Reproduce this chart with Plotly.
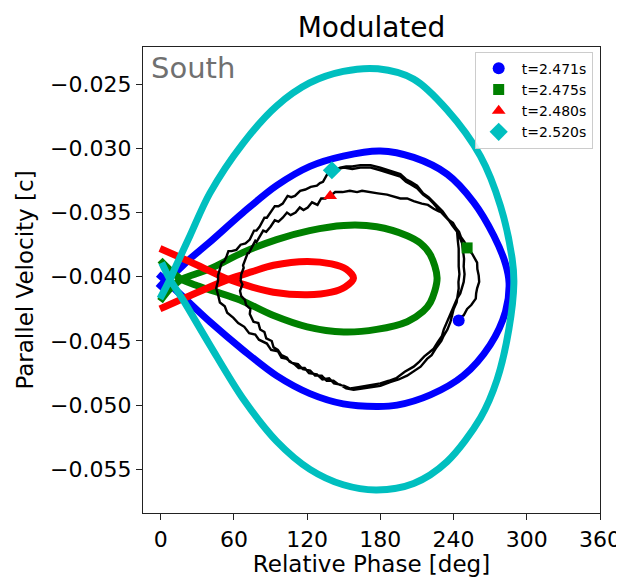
import plotly.graph_objects as go

# ---- data (Relative Phase [deg], Parallel Velocity [c]) ----
blue_curve = [(-2.0,-0.0398),(4.0,-0.0403),(12.0,-0.0410),(21.0,-0.0418),(40.2,-0.0435),(67.5,-0.0457),
              (94.9,-0.0477),(122.3,-0.0491),(149.6,-0.0499),(177.0,-0.0501),(193.7,-0.0500),(221.0,-0.0492),
              (248.0,-0.0477),(270.0,-0.0453),(282.6,-0.0427),(285.5,-0.0405),(282.6,-0.0390),(273.0,-0.0368),
              (256.5,-0.0342),(234.7,-0.0320),(207.3,-0.0307),(180.0,-0.0302),(149.6,-0.0306),(122.3,-0.0314),
              (94.9,-0.0329),(67.5,-0.0350),(40.2,-0.0373),(24.0,-0.0386),(12.8,-0.0396),(4.0,-0.0403),(-2.0,-0.0409)]

green_curve = [(-0.5,-0.0387),(8.0,-0.0395),(17.0,-0.0402),(30.0,-0.0407),(43.0,-0.0411),(65.0,-0.0418),
               (92.0,-0.0430),(120.0,-0.0439),(150.0,-0.0443),(177.0,-0.0441),(202.0,-0.0435),(215.0,-0.0427),
               (221.0,-0.0420),(226.5,-0.0401),(221.0,-0.0383),(213.0,-0.0374),(202.0,-0.0368),(177.0,-0.0361),
               (150.0,-0.0360),(122.0,-0.0364),(95.0,-0.0371),(67.5,-0.0381),(40.0,-0.0394),(28.0,-0.0398),
               (17.0,-0.0402),(8.0,-0.0409),(-0.5,-0.0419)]

red_curve = [(-0.6,-0.0378),(28.0,-0.0390),(55.5,-0.0402),(75.0,-0.0408),(92.4,-0.0412),(120.0,-0.0414),
             (140.0,-0.0412),(151.0,-0.0408),(158.0,-0.0401),(152.0,-0.0394),(140.0,-0.0390),(120.0,-0.0388),
             (92.4,-0.0391),(75.0,-0.0396),(55.5,-0.0402),(28.0,-0.0413),(-0.6,-0.0425)]

cyan_curve = [(0.8,-0.0389),(7.6,-0.0402),(18.3,-0.0418),(40.2,-0.0453),(67.5,-0.0495),(94.9,-0.0528),
              (122.3,-0.0550),(149.6,-0.0562),(177.0,-0.0566),(207.3,-0.0561),(234.7,-0.0544),(262.0,-0.0510),
              (275.7,-0.0480),(285.3,-0.0441),(289.4,-0.0405),(288.0,-0.0386),(278.5,-0.0345),(262.0,-0.0306),
              (234.7,-0.0270),(207.3,-0.0246),(178.0,-0.0238),(149.6,-0.0240),(122.0,-0.0249),(94.9,-0.0267),
              (67.5,-0.0296),(40.2,-0.0335),(24.0,-0.0368),(12.8,-0.0391),(7.6,-0.0402),(-0.6,-0.0417)]

trajectory = [
    # t=2.471 -> t=2.475
    (244.2,-0.0434),(246.5,-0.0431),(248.3,-0.0430),(251.1,-0.0425),(254.5,-0.0422),(258.2,-0.0417),
    (258.5,-0.0413),(259.3,-0.0409),(261.0,-0.0404),(260.6,-0.0399),(259.5,-0.0394),(259.3,-0.0389),
    (255.2,-0.0382),(251.1,-0.03775),
    # t=2.475 -> t=2.480
    (249.0,-0.0373),(246.0,-0.0369),(244.5,-0.0365),(242.0,-0.0362),(239.5,-0.0358),(236.5,-0.0356),
    (234.7,-0.0354),(231.0,-0.0350),(228.0,-0.0349),(223.7,-0.0347),(219.0,-0.0344),(214.0,-0.0343),
    (207.3,-0.0341),(202.0,-0.0339),(196.4,-0.0339),(190.0,-0.0337),(185.5,-0.0336),(178.0,-0.0335),
    (172.0,-0.0334),(165.0,-0.0333),(160.9,-0.0334),(155.0,-0.0333),(149.0,-0.0334),(143.0,-0.0334),
    (138.9,-0.0337),
    # first loop
    (135.0,-0.0339),(131.5,-0.0339),(128.5,-0.0344),(124.0,-0.0342),(120.5,-0.0346),(117.0,-0.0348),
    (114.0,-0.0346),(110.5,-0.0350),(106.5,-0.0352),(103.5,-0.0350),(100.0,-0.0354),(96.5,-0.0357),
    (93.5,-0.0356),(90.0,-0.0361),(86.5,-0.0365),(84.0,-0.0364),(81.0,-0.0369),(78.5,-0.0373),
    (77.5,-0.0372),(74.5,-0.0378),(72.0,-0.0382),(71.5,-0.0381),(69.0,-0.0387),(67.5,-0.0391),
    (68.0,-0.0393),(66.0,-0.0398),(65.5,-0.0403),(67.0,-0.0406),(65.0,-0.0411),(66.0,-0.0415),
    (69.0,-0.0418),(70.0,-0.0422),(73.5,-0.0425),(73.0,-0.0429),(76.0,-0.0435),(80.0,-0.0436),
    (81.5,-0.0441),(85.0,-0.0443),(86.5,-0.0448),(91.0,-0.0450),(92.5,-0.0455),(96.0,-0.0457),
    (99.0,-0.0461),(103.5,-0.0463),(105.5,-0.0466),(109.5,-0.0468),(113.0,-0.0471),(118.0,-0.0471),
    (121.5,-0.0475),(128.0,-0.0476),(132.5,-0.0480),(138.0,-0.0479),(142.0,-0.0483),(147.1,-0.0484),
    (152.0,-0.0487),(158.1,-0.0488),(165.0,-0.0487),(172.0,-0.0486),(180.0,-0.0485),(188.0,-0.0482),
    (195.0,-0.0480),(201.9,-0.0477),(208.0,-0.0473),(213.0,-0.0470),(218.3,-0.0464),(222.0,-0.0461),
    (226.0,-0.0455),(230.0,-0.0450),(231.9,-0.0446),(235.0,-0.0441),(237.5,-0.0435),(238.5,-0.0431),
    (240.1,-0.0425),(242.5,-0.0420),(243.0,-0.0415),(244.2,-0.0409),(244.0,-0.0404),(244.8,-0.0398),
    (244.2,-0.0392),(244.5,-0.0385),(244.2,-0.0378),(243.5,-0.0372),(242.9,-0.0365),(239.0,-0.0360),
    (236.5,-0.0356),(234.7,-0.0354),(231.0,-0.0349),(228.0,-0.0346),(223.7,-0.0342),(219.5,-0.0338),
    (215.0,-0.0335),(210.1,-0.0329),(205.0,-0.0326),(201.0,-0.0324),(196.4,-0.0320),(190.0,-0.0318),
    (185.0,-0.0316),(180.0,-0.0315),(172.0,-0.0313),(163.6,-0.0313),(157.0,-0.0314),(152.0,-0.0314),
    (147.1,-0.0315),(142.0,-0.0317),
    # second loop
    (138.5,-0.0319),(136.5,-0.0320),(133.0,-0.0326),(130.5,-0.0327),(128.0,-0.0329),(123.0,-0.0330),
    (118.5,-0.0332),(114.3,-0.0333),(110.0,-0.0337),(107.0,-0.0338),(104.0,-0.0337),(100.0,-0.0343),
    (96.5,-0.0345),(93.5,-0.0345),(89.5,-0.0351),(87.0,-0.0354),(85.0,-0.0354),(81.0,-0.0361),
    (78.5,-0.0364),(76.5,-0.0364),(73.0,-0.0371),(69.5,-0.0374),(65.5,-0.0375),(62.0,-0.0379),
    (58.0,-0.0380),(55.5,-0.0380),(54.0,-0.0384),(52.0,-0.0388),(50.0,-0.0389),(48.5,-0.0395),
    (47.0,-0.0399),(47.0,-0.0403),(45.5,-0.0409),(47.0,-0.0414),(48.5,-0.0420),(52.5,-0.0423),
    (54.5,-0.0428),(59.6,-0.0432),(63.5,-0.0436),(68.5,-0.0439),(72.5,-0.0444),(77.5,-0.0445),
    (80.5,-0.0449),(87.0,-0.0452),(90.5,-0.0457),(96.0,-0.0458),(99.0,-0.0463),(103.4,-0.0464),
    (107.5,-0.0467),(112.5,-0.0468),(116.5,-0.0472),(122.5,-0.0473),(126.5,-0.0477),(132.0,-0.0477),
    (136.0,-0.0481),(141.6,-0.0481),(146.0,-0.0484),(150.5,-0.0485),(155.4,-0.0487),(162.0,-0.0486),
    (168.0,-0.0485),(174.0,-0.0484),(180.0,-0.0483),(187.0,-0.0481),(193.0,-0.0479),(200.0,-0.0474),
    (207.3,-0.0470),(212.0,-0.0466),(216.0,-0.0462),(220.0,-0.0459),(223.7,-0.0456),(227.0,-0.0451),
    (230.5,-0.0446),(232.0,-0.0441),(234.7,-0.0435),(237.0,-0.0430),(239.5,-0.0425),(242.9,-0.0417),
    (245.5,-0.0413),(247.0,-0.0409),(248.3,-0.0404),(249.0,-0.0398),(248.3,-0.0392),(248.6,-0.0386),
    (248.0,-0.0380),(247.0,-0.0374),(244.5,-0.0368),(242.0,-0.0363),(239.0,-0.0359),(234.7,-0.0355),
    (231.0,-0.0351),(228.0,-0.0348),(223.7,-0.0343),(219.5,-0.0339),(215.0,-0.0336),(210.1,-0.0331),
    (205.0,-0.0328),(201.0,-0.0326),(196.4,-0.0322),(190.0,-0.0320),(185.0,-0.0318),(180.0,-0.0317),
    (172.0,-0.0315),(163.6,-0.0315),(157.0,-0.0316),(150.0,-0.0315),(145.0,-0.0316),(140.3,-0.0317),
]

marker_labels = ["t=2.471s", "t=2.475s", "t=2.480s", "t=2.520s"]
marker_phase = [244.2, 251.1, 138.9, 140.3]
marker_vel = [-0.0434, -0.03775, -0.0337, -0.0317]

x_ticks = [0, 60, 120, 180, 240, 300, 360]
y_ticks = [-0.055, -0.050, -0.045, -0.040, -0.035, -0.030, -0.025]

# ---- styles ----
colors = ["#0000ff", "#008000", "#ff0000", "#00bfbf"]
symbols = ["circle", "square", "triangle-up", "diamond"]
msizes = [12, 11, 12, 14]
FONT = "DejaVu Sans"

# the page body has an 8px margin, so the figure is sized to sit inside 624x578
FIG_W, FIG_H = 616, 570

fig = go.Figure()
for curve, col in zip([blue_curve, green_curve, red_curve, cyan_curve], colors):
    fig.add_trace(go.Scatter(
        x=[p[0] for p in curve], y=[p[1] for p in curve], mode="lines",
        line=dict(color=col, width=7, shape="spline", smoothing=0.9),
        showlegend=False, hoverinfo="skip"))

fig.add_trace(go.Scatter(
    x=[p[0] for p in trajectory], y=[p[1] for p in trajectory], mode="lines",
    line=dict(color="black", width=2.4), showlegend=False, hoverinfo="skip"))

for lab, xp, yp, col, sym, ms in zip(marker_labels, marker_phase, marker_vel, colors, symbols, msizes):
    fig.add_trace(go.Scatter(
        x=[xp], y=[yp], mode="markers", name=lab,
        marker=dict(color=col, symbol=sym, size=ms, line=dict(width=0))))

axis_common = dict(
    showline=True, linecolor="#222", linewidth=1.2, mirror=True,
    ticks="outside", ticklen=6, tickwidth=1.2, tickcolor="#222",
    showgrid=False, zeroline=False, automargin=False,
    tickfont=dict(family=FONT, size=22, color="black"),
)

fig.update_layout(
    width=FIG_W, height=FIG_H,
    margin=dict(l=135, r=24, t=39, b=65),
    plot_bgcolor="white", paper_bgcolor="white",
    title=dict(text="Modulated", x=0.5, xref="paper", y=1 - 19 / FIG_H, yref="container",
               xanchor="center", yanchor="middle",
               font=dict(family=FONT, size=28, color="black")),
    xaxis=dict(range=[-14.5, 360], tickvals=x_ticks,
               title=dict(text="Relative Phase [deg]", standoff=4,
                          font=dict(family=FONT, size=23, color="black")),
               **axis_common),
    yaxis=dict(range=[-0.0584, -0.0221], tickvals=y_ticks, tickformat=".3f",
               title=dict(text="Parallel Velocity [c]", standoff=10,
                          font=dict(family=FONT, size=23, color="black")),
               **axis_common),
    legend=dict(x=0.984, y=0.99, xanchor="right", yanchor="top", itemwidth=36,
                bgcolor="rgba(255,255,255,0.85)", bordercolor="#cccccc", borderwidth=1,
                font=dict(family=FONT, size=14, color="black"), tracegroupgap=0),
    annotations=[dict(text="South", xref="paper", yref="paper", x=0, y=1,
                      xanchor="left", yanchor="top", xshift=6, yshift=-2, showarrow=False,
                      font=dict(family=FONT, size=29, color="#707070"))],
)

fig.write_html("out.html")
